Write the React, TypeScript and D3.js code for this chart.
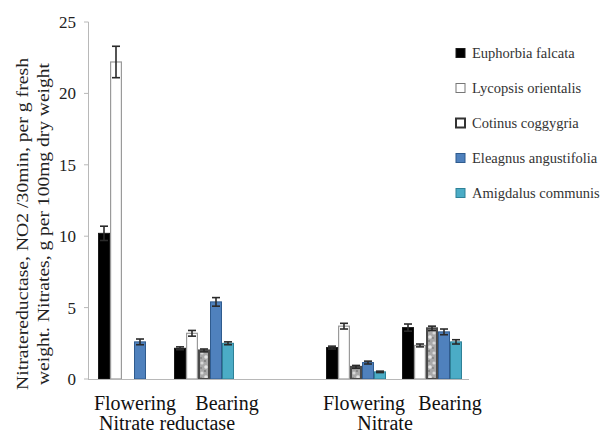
import React from "react";
import * as d3 from "d3";

const slots = ["NR-Flowering", "NR-Bearing", "gap", "N-Flowering", "N-Bearing"];
const stageLabels = ["Flowering", "Bearing", "", "Flowering", "Bearing"];
const parentLabels = ["Nitrate reductase", "Nitrate"];
const parentSlots = [["NR-Flowering", "NR-Bearing"], ["N-Flowering", "N-Bearing"]];

const species = [
  "Euphorbia falcata",
  "Lycopsis orientalis",
  "Cotinus coggygria",
  "Eleagnus angustifolia",
  "Amigdalus communis",
];

// values per slot (gap slot = null)
const euphorbia = [10.2, 2.15, null, 2.2, 3.6];
const lycopsis = [22.2, 3.2, null, 3.7, 2.35];
const cotinus = [0, 2.0, null, 0.85, 3.55];
const eleagnus = [2.6, 5.4, null, 1.15, 3.3];
const amigdalus = [0, 2.5, null, 0.5, 2.6];

const euphorbiaErr = [0.5, 0.1, null, 0.1, 0.25];
const lycopsisErr = [1.1, 0.2, null, 0.2, 0.1];
const cotinusErr = [0, 0.1, null, 0.1, 0.15];
const eleagnusErr = [0.2, 0.3, null, 0.1, 0.2];
const amigdalusErr = [0, 0.1, null, 0.05, 0.15];

const yTicks = [0, 5, 10, 15, 20, 25];

const seriesValues = [euphorbia, lycopsis, cotinus, eleagnus, amigdalus];
const seriesErrors = [euphorbiaErr, lycopsisErr, cotinusErr, eleagnusErr, amigdalusErr];

const fills = ["#000000", "#ffffff", "url(#marble)", "#4f81bd", "#4bacc6"];
const strokes = ["#1a1a1a", "#9a9a9a", "#4a4a4a", "#2f5b8e", "#2e8197"];
const strokeW = [1, 1.2, 2, 1, 1];

const FONT = "serif";

export default function App() {
  const x0 = d3.scaleBand<string>().domain(slots).range([89, 469]);
  const x1 = d3.scaleBand<string>().domain(species).range([9, 69]);
  const y = d3.scaleLinear().domain([0, 25]).range([379, 22]);

  const bars: React.ReactNode[] = [];
  const errs: React.ReactNode[] = [];
  slots.forEach((slot, si) => {
    species.forEach((sp, k) => {
      const v = seriesValues[k][si];
      if (v == null || v === 0) return;
      const e = seriesErrors[k][si] ?? 0;
      const bx = (x0(slot) ?? 0) + (x1(sp) ?? 0);
      const bw = x1.bandwidth();
      const sw = strokeW[k];
      bars.push(
        <rect
          key={`b-${slot}-${k}`}
          x={bx + sw / 2}
          y={y(v)}
          width={bw - sw}
          height={y(0) - y(v)}
          fill={fills[k]}
          stroke={strokes[k]}
          strokeWidth={sw}
        />
      );
      if (e > 0) {
        const cx = bx + bw / 2;
        errs.push(
          <g key={`e-${slot}-${k}`} stroke="#2a2a2a" strokeWidth={1.6}>
            <line x1={cx} x2={cx} y1={y(v + e)} y2={y(v - e)} />
            <line x1={cx - 4} x2={cx + 4} y1={y(v + e)} y2={y(v + e)} />
            <line x1={cx - 4} x2={cx + 4} y1={y(v - e)} y2={y(v - e)} />
          </g>
        );
      }
    });
  });

  const stageOffsets = [8, 24, 0, 9, 19];

  return (
    <svg
      width={604}
      height={434}
      fontFamily={FONT}
      style={{ position: "absolute", left: 0, top: 0, background: "#fff", fontFamily: FONT }}
    >
      <defs>
        <pattern id="marble" width="8" height="10" patternUnits="userSpaceOnUse">
          <rect width="8" height="10" fill="#a8a8a8" />
          <circle cx="2" cy="3" r="1.6" fill="#d8d8d8" />
          <circle cx="6" cy="7" r="1.8" fill="#e4e4e4" />
          <circle cx="5" cy="1" r="0.9" fill="#777" />
          <circle cx="1" cy="8" r="0.9" fill="#808080" />
        </pattern>
      </defs>

      {/* y axis */}
      <line x1={88.5} x2={88.5} y1={22} y2={379} stroke="#b8b8b8" strokeWidth={1} />
      {yTicks.map((t) => (
        <g key={`t-${t}`}>
          <line x1={84} x2={88.5} y1={y(t)} y2={y(t)} stroke="#b8b8b8" />
          <text x={76} y={y(t)} dy="0.35em" textAnchor="end" fontSize={17} fill="#222">
            {t}
          </text>
        </g>
      ))}

      {bars}
      {errs}

      {/* x axis */}
      <line x1={88} x2={469} y1={379.5} y2={379.5} stroke="#b8b8b8" strokeWidth={1} />

      {/* stage labels */}
      {slots.map((slot, si) =>
        stageLabels[si] ? (
          <text
            key={`s-${slot}`}
            x={(x0(slot) ?? 0) + x0.bandwidth() / 2 + stageOffsets[si]}
            y={410}
            textAnchor="middle"
            fontSize={20}
            fill="#111"
          >
            {stageLabels[si]}
          </text>
        ) : null
      )}
      {parentLabels.map((p, i) => {
        const a = x0(parentSlots[i][0]) ?? 0;
        const b = (x0(parentSlots[i][1]) ?? 0) + x0.bandwidth();
        const off = i === 0 ? 2 : -8;
        return (
          <text key={`p-${i}`} x={(a + b) / 2 + off} y={430} textAnchor="middle" fontSize={20} fill="#111">
            {p}
          </text>
        );
      })}

      {/* y title */}
      <text
        transform="translate(28,224) rotate(-90)"
        textAnchor="middle"
        fontSize={16.5}
        fill="#222"
        textLength={332}
        lengthAdjust="spacingAndGlyphs"
      >
        Nitratereductase, NO2 /30min, per g fresh
      </text>
      <text
        transform="translate(49,224) rotate(-90)"
        textAnchor="middle"
        fontSize={16.5}
        fill="#222"
        textLength={322}
        lengthAdjust="spacingAndGlyphs"
      >
        weight. Nitrates, g per 100mg dry weight
      </text>

      {/* legend */}
      {species.map((sp, k) => (
        <g key={`l-${k}`} transform={`translate(460,${53 + k * 35})`}>
          <rect
            x={-4}
            y={-4.5}
            width={9}
            height={9}
            fill={k === 2 ? "#ffffff" : fills[k]}
            stroke={k === 1 ? "#777" : k === 2 ? "#333" : strokes[k]}
            strokeWidth={k === 2 ? 2 : 1}
          />
          <text x={12} y={0} dy="0.35em" fontSize={14.5} fill="#333">
            {sp}
          </text>
        </g>
      ))}
    </svg>
  );
}
